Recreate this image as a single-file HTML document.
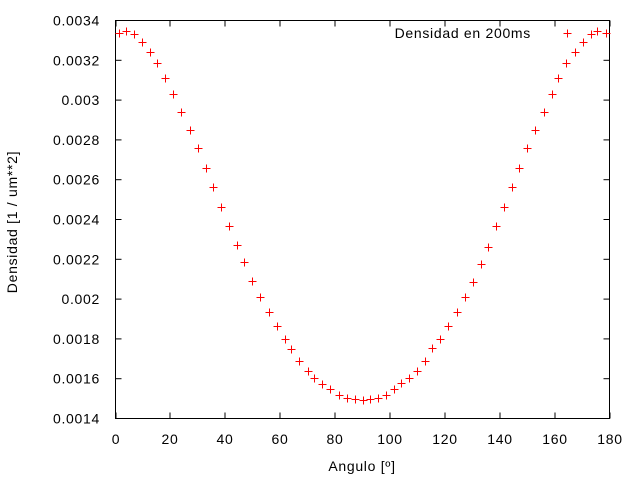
<!DOCTYPE html>
<html><head><meta charset="utf-8"><style>
body{margin:0;background:#fff;}
svg text{font-family:"Liberation Sans",sans-serif;font-size:14px;fill:#000;letter-spacing:0.7px;}
</style></head><body>
<svg id="chart" width="640" height="480">
<rect x="115.5" y="20.5" width="494" height="398" fill="none" stroke="#000"/>
<g id="axes"></g>
<g id="marks"></g>
<text x="362" y="471" text-anchor="middle">Angulo [º]</text>
<text x="17" y="222" text-anchor="middle" transform="rotate(-90 17 222)">Densidad [1 / um**2]</text>
<text x="531" y="38" text-anchor="end">Densidad en 200ms</text>
</svg>
<script>
const angles=[1.1,4.0,6.9,9.5,12.4,15.3,18.2,21.1,24.0,27.0,29.9,32.8,35.7,38.6,41.5,44.1,47.0,49.9,52.8,55.8,58.7,61.6,64.1,67.0,70.0,72.5,75.4,78.3,81.3,84.2,87.1,90.0,92.6,95.5,98.4,101.3,104.2,107.1,109.7,112.6,115.5,118.4,121.3,124.3,127.2,130.1,133.0,135.6,138.5,141.4,144.3,147.2,150.1,153.0,156.0,158.9,161.4,164.3,167.3,170.2,173.1,175.6,178.6];
const density=[0.003335,0.003345,0.003330,0.003294,0.003244,0.003184,0.003113,0.003033,0.002942,0.002852,0.002757,0.002661,0.002561,0.002465,0.002365,0.002274,0.002184,0.002093,0.002013,0.001937,0.001867,0.001802,0.001747,0.001691,0.001641,0.001606,0.001571,0.001546,0.001520,0.001505,0.001500,0.001495,0.001500,0.001505,0.001520,0.001546,0.001576,0.001606,0.001641,0.001691,0.001752,0.001802,0.001867,0.001937,0.002013,0.002088,0.002178,0.002264,0.002365,0.002465,0.002561,0.002661,0.002757,0.002852,0.002942,0.003033,0.003113,0.003184,0.003244,0.003294,0.003330,0.003345,0.003335];
const xTicks=[0,20,40,60,80,100,120,140,160,180];
const yTicks=[0.0014,0.0016,0.0018,0.002,0.0022,0.0024,0.0026,0.0028,0.003,0.0032,0.0034];
const yTickLabels=["0.0014","0.0016","0.0018","0.002","0.0022","0.0024","0.0026","0.0028","0.003","0.0032","0.0034"];
const X0=115.5,X1=609.5,Y0=418.5,Y1=20.5;
function sx(v){return X0+(v-0)/(180-0)*(X1-X0);}
function sy(v){return Y0-(v-0.0014)/(0.0034-0.0014)*(Y0-Y1);}
const NS="http://www.w3.org/2000/svg";
const axes=document.getElementById('axes'),marks=document.getElementById('marks');
function line(g,x1,y1,x2,y2,c){const l=document.createElementNS(NS,'line');l.setAttribute('x1',x1);l.setAttribute('y1',y1);l.setAttribute('x2',x2);l.setAttribute('y2',y2);l.setAttribute('stroke',c);g.appendChild(l);return l;}
xTicks.forEach(t=>{const x=Math.round(sx(t))+0.5-0.5;
const a=line(axes,x,Y0,x,Y0-6,'#000');


const b=line(axes,x,Y1,x,Y1+6,'#000');


const tx=document.createElementNS(NS,'text');tx.setAttribute('x',x);tx.setAttribute('y',444);tx.setAttribute('text-anchor','middle');tx.textContent=t;


axes.appendChild(tx);});
yTicks.forEach((t,i)=>{const y=sy(t);
const a=line(axes,X0,y,X0+6,y,'#000');


const b=line(axes,X1,y,X1-6,y,'#000');


const tx=document.createElementNS(NS,'text');tx.setAttribute('x',100);tx.setAttribute('y',y+5);tx.setAttribute('text-anchor','end');tx.textContent=yTickLabels[i];


axes.appendChild(tx);});
function cross(x,y){const g=document.createElementNS(NS,'g');line(g,x-4,y,x+4,y,'#f00');line(g,x,y-4,x,y+4,'#f00');marks.appendChild(g);return g;}
angles.forEach((a,i)=>{const g=cross(Math.round(sx(a))+0.5,Math.round(sy(density[i]))+0.5);

});
const lg=cross(567.5,33.5);


</script>
</body></html>
